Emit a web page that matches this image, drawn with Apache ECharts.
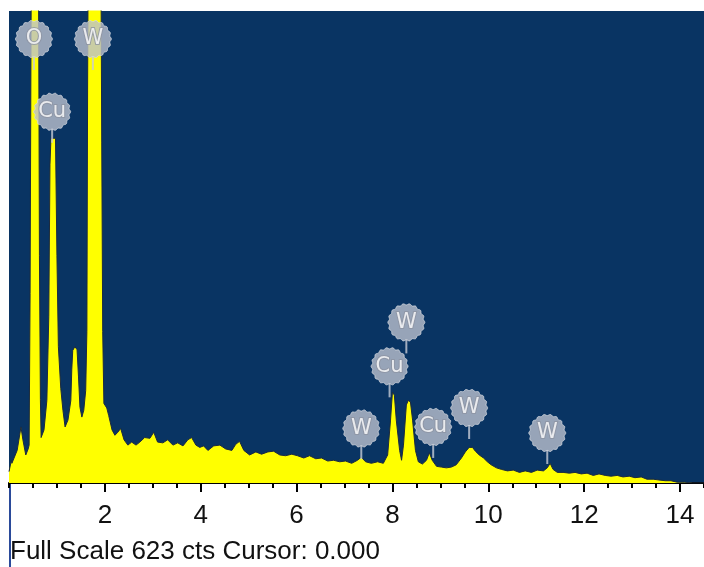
<!DOCTYPE html>
<html><head><meta charset="utf-8">
<script src="https://cdn.jsdelivr.net/npm/echarts@6/dist/echarts.min.js"></script>
<style>html,body{margin:0;padding:0;background:#fff}#c{width:704px;height:567px}</style>
</head><body><div id="c"></div>
<script>
// Spectrum (energy in keV, counts)
const energy = [0.0,0.05,0.06,0.17,0.25,0.29,0.35,0.4,0.42,0.44,0.46,0.48,0.6,0.62,0.635,0.655,0.67,0.73,0.79,0.83,0.855,0.875,0.97,1.0,1.03,1.08,1.125,1.17,1.23,1.29,1.31,1.33,1.375,1.42,1.45,1.48,1.52,1.56,1.6,1.625,1.64,1.66,1.91,1.935,1.955,1.98,2.04,2.08,2.15,2.21,2.27,2.33,2.4,2.48,2.56,2.65,2.73,2.83,2.94,3.02,3.1,3.21,3.31,3.42,3.52,3.63,3.73,3.81,3.9,3.98,4.06,4.15,4.27,4.4,4.52,4.65,4.73,4.81,4.9,5.02,5.15,5.27,5.4,5.52,5.65,5.77,5.9,6.02,6.15,6.27,6.4,6.52,6.65,6.77,6.9,7.02,7.15,7.27,7.35,7.44,7.56,7.69,7.81,7.9,7.96,8.0,8.04,8.08,8.15,8.19,8.23,8.29,8.33,8.375,8.42,8.48,8.54,8.625,8.71,8.77,8.83,8.92,9.02,9.125,9.23,9.33,9.44,9.52,9.6,9.67,9.73,9.81,9.9,9.98,10.06,10.17,10.27,10.4,10.52,10.65,10.77,10.9,11.02,11.15,11.23,11.29,11.35,11.44,11.56,11.69,11.81,11.94,12.06,12.19,12.31,12.44,12.56,12.69,12.81,12.94,13.06,13.19,13.31,13.44,13.56,13.69,13.81,13.94,14.1,14.27,14.5];
const counts = [15,30,26,43,74,57,37,45,50,250,600,800,800,600,300,110,60,70,109,220,420,455,455,300,180,125,96,74,83,109,150,175,180,176,140,100,87,96,122,200,520,800,800,450,200,105,99,89,70,63,67,72,57,50,54,50,54,60,59,67,54,53,57,50,53,49,57,60,50,47,49,43,49,50,45,43,51,55,43,37,41,38,41,42,37,36,38,36,33,36,32,33,29,30,28,29,26,30,34,28,26,28,26,37,83,120,116,83,43,30,50,103,109,107,83,43,28,25,30,40,30,22,21,20,21,24,33,41,47,47,42,37,33,28,24,20,18,16,17,14,16,14,17,16,20,26,18,14,14,13,14,12,13,10,12,10,9,10,8,9,7,8,5,5,4,3,3,1,1,0,0];
// Element markers
const markerEl = ['O','W','Cu','W','Cu','W','Cu','W','W'];
const markerX = [0.52,1.75,0.9,7.35,7.94,8.29,8.85,9.6,11.23];
const markerY = [586,586,490,72,154,212,74,99,66];
const tickLabels = [2,4,6,8,10,12,14];
const fullScale = 623;

const spectrum = energy.map((e,i)=>[e,counts[i]]);
const markers = markerX.map((x,i)=>({value:[x,markerY[i]], name:markerEl[i]}));

// gear-like badge symbol
let gp = '';
for (let k=0;k<=216;k++){
  const t = k/216*Math.PI*2;
  const r = 48 + 1.8*Math.cos(18*t);
  const px = (50 + r*Math.cos(t)).toFixed(2), py = (50 + r*Math.sin(t)).toFixed(2);
  gp += (k===0?'M':'L') + px + ' ' + py + ' ';
}
gp += 'Z';

const chart = echarts.init(document.getElementById('c'));
chart.setOption({
  animation:false,
  backgroundColor:'#ffffff',
  grid:{left:9,right:0,top:11,bottom:84,show:true,backgroundColor:'#093463',borderWidth:0},
  xAxis:[{
    type:'value',min:0,max:14.5,interval:0.5,
    axisLine:{show:true,onZero:false,lineStyle:{color:'#000',width:2}},
    axisTick:{show:true,length:5,lineStyle:{color:'#000',width:2}},
    axisLabel:{show:false},
    splitLine:{show:false}
  },{
    type:'value',min:0,max:14.5,position:'bottom',
    axisLine:{show:false},
    axisTick:{show:true,length:9,customValues:tickLabels,lineStyle:{color:'#000',width:2}},
    axisLabel:{show:true,customValues:tickLabels,margin:20,color:'#111',fontSize:26,fontFamily:'Liberation Sans, Arial, sans-serif'},
    splitLine:{show:false}
  }],
  yAxis:{type:'value',min:0,max:fullScale,show:false},
  series:[{
    type:'line',data:spectrum,showSymbol:false,clip:true,
    lineStyle:{color:'#1d2b3f',width:1},
    areaStyle:{color:'#ffff00',opacity:1},
    z:2
  },{
    type:'scatter',data:markers,symbol:'rect',symbolSize:[2,14],symbolOffset:[0,24],
    itemStyle:{color:'#c8ccd6'},z:3,silent:true
  },{
    type:'scatter',data:markers,symbol:'path://'+gp,symbolSize:37,
    itemStyle:{color:'#bcc1cd',borderColor:'#d6d9e1',borderWidth:1},
    label:{show:true,position:'inside',formatter:p=>p.name,color:'#ffffff',fontSize:21,
      fontFamily:'DejaVu Sans, sans-serif',textBorderColor:'#8d93a3',textBorderWidth:2},
    z:4,silent:true
  }],
  graphic:[
    {type:'rect',shape:{x:9,y:483,width:2,height:84},style:{fill:'#2a4a9a'}},
    {type:'text',x:10,y:552,style:{text:'Full Scale 623 cts Cursor: 0.000',fill:'#111',verticalAlign:'middle',font:'26px "Liberation Sans", Arial, sans-serif'}}
  ]
});
</script></body></html>
